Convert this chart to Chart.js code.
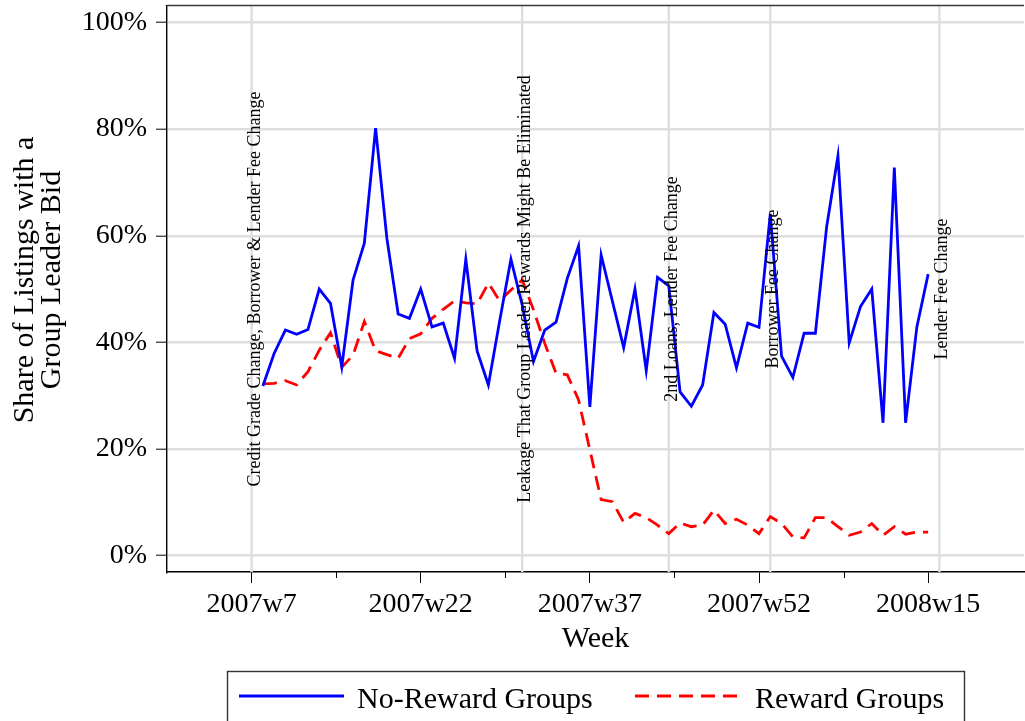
<!DOCTYPE html>
<html>
<head>
<meta charset="utf-8">
<title>Group leader bids by week</title>
<script src="https://cdn.jsdelivr.net/npm/chart.js@4/dist/chart.umd.min.js"></script>
<style>
    html, body { margin: 0; padding: 0; background: #fff; }
    #wrap { width: 1025px; height: 721px; }
</style>
</head>
<body>
<div id="wrap"><canvas id="chart" width="1025" height="721"></canvas></div>
<script>
// =============================
// Data
// =============================

const weeks = [
    '2007w8', '2007w9', '2007w10', '2007w11', '2007w12', '2007w13', '2007w14', '2007w15', '2007w16', '2007w17',
    '2007w18', '2007w19', '2007w20', '2007w21', '2007w22', '2007w23', '2007w24', '2007w25', '2007w26', '2007w27',
    '2007w28', '2007w29', '2007w30', '2007w31', '2007w32', '2007w33', '2007w34', '2007w35', '2007w36', '2007w37',
    '2007w38', '2007w39', '2007w40', '2007w41', '2007w42', '2007w43', '2007w44', '2007w45', '2007w46', '2007w47',
    '2007w48', '2007w49', '2007w50', '2007w51', '2007w52', '2008w1', '2008w2', '2008w3', '2008w4', '2008w5',
    '2008w6', '2008w7', '2008w8', '2008w9', '2008w10', '2008w11', '2008w12', '2008w13', '2008w14', '2008w15'
];

// share of listings with a group leader bid (%)
const noRewardShare = [
    31.8, 37.9, 42.3, 41.5, 42.4, 50.0, 47.3, 35.4, 51.7, 58.6,
    80.2, 59.5, 45.3, 44.5, 50.0, 42.9, 43.6, 37.0, 55.6, 38.4,
    32.0, 44.0, 55.6, 47.0, 36.4, 42.3, 43.8, 52.0, 58.1, 27.9,
    56.4, 47.7, 39.0, 50.0, 34.7, 52.2, 50.6, 30.7, 28.0, 32.0,
    45.6, 43.4, 35.2, 43.6, 42.8, 64.1, 37.4, 33.4, 41.7, 41.7,
    61.7, 75.0, 39.9, 46.7, 50.0, 24.9, 72.8, 24.9, 42.9, 52.8
];

const rewardShare = [
    32.2, 32.3, 32.8, 32.0, 34.5, 38.5, 41.8, 35.3, 37.6, 43.9,
    38.4, 37.7, 37.0, 40.7, 41.6, 44.5, 46.2, 47.8, 47.4, 47.2,
    51.1, 47.8, 49.8, 51.7, 46.1, 39.8, 34.2, 33.9, 29.2, 19.8,
    10.5, 10.1, 6.2, 7.9, 7.1, 5.7, 4.1, 6.1, 5.4, 5.7,
    8.5, 6.0, 6.8, 5.7, 4.1, 7.3, 6.0, 3.5, 3.3, 7.1,
    7.1, 5.4, 3.8, 4.4, 6.0, 3.8, 5.4, 4.0, 4.4, 4.4
];

const xTickLabels = ['2007w7', '2007w22', '2007w37', '2007w52', '2008w15'];
const yTickValues = [0, 20, 40, 60, 80, 100];

const eventWeeks = ['2007w7', '2007w31', '2007w44', '2008w1', '2008w16'];
const eventLabels = [
    'Credit Grade Change, Borrower & Lender Fee Change',
    'Leakage That Group Leader Rewards Might Be Eliminated',
    '2nd Loans, Lender Fee Change',
    'Borrower Fee Change',
    'Lender Fee Change'
];

// Stata-style weekly index: 52 weeks per year, 2007w1 = 1
function weekNum(label) {
    const parts = label.split('w');
    return (Number(parts[0]) - 2007) * 52 + Number(parts[1]);
}

const SERIF = '"Liberation Serif", "Times New Roman", serif';
const GRID = '#dedede';

// =============================
// Extra drawing: event lines, frame, titles, legend
// =============================

const overlay = {
    id: 'overlay',
    beforeDatasetsDraw(chart) {
        const { ctx, chartArea, scales } = chart;
        ctx.save();
        ctx.strokeStyle = GRID;
        ctx.lineWidth = 2.4;
        eventWeeks.forEach(w => {
            const x = scales.x.getPixelForValue(weekNum(w));
            ctx.beginPath();
            ctx.moveTo(x, chartArea.top);
            ctx.lineTo(x, chartArea.bottom);
            ctx.stroke();
        });
        ctx.restore();
    },
    afterDatasetsDraw(chart) {
        const { ctx, scales } = chart;
        const yMid = scales.y.getPixelForValue(50);
        ctx.save();
        ctx.fillStyle = '#000';
        ctx.font = '18px ' + SERIF;
        ctx.textAlign = 'center';
        ctx.textBaseline = 'alphabetic';
        eventWeeks.forEach((w, i) => {
            const x = scales.x.getPixelForValue(weekNum(w));
            ctx.save();
            ctx.translate(x, yMid);
            ctx.rotate(-Math.PI / 2);
            ctx.fillText(eventLabels[i], 0, 8);
            ctx.restore();
        });
        ctx.restore();
    },
    afterDraw(chart) {
        const { ctx, chartArea, scales } = chart;
        ctx.save();

        // top frame
        ctx.strokeStyle = '#3a3a3a';
        ctx.lineWidth = 1.4;
        ctx.beginPath();
        ctx.moveTo(chartArea.left, chartArea.top);
        ctx.lineTo(chartArea.right, chartArea.top);
        ctx.stroke();

        // minor ticks halfway between labelled ticks
        ctx.strokeStyle = '#000';
        ctx.lineWidth = 1;
        for (let i = 0; i < xTickLabels.length - 1; i++) {
            const mid = (weekNum(xTickLabels[i]) + weekNum(xTickLabels[i + 1])) / 2;
            const x = Math.round(scales.x.getPixelForValue(mid)) + 0.5;
            ctx.beginPath();
            ctx.moveTo(x, chartArea.bottom);
            ctx.lineTo(x, chartArea.bottom + 6);
            ctx.stroke();
        }

        // axis titles
        ctx.fillStyle = '#000';
        ctx.font = '30px ' + SERIF;
        ctx.textAlign = 'center';
        ctx.textBaseline = 'alphabetic';
        ctx.fillText('Week', (chartArea.left + chartArea.right) / 2, 647);

        ctx.save();
        ctx.translate(0, 280);
        ctx.rotate(-Math.PI / 2);
        ctx.fillText('Share of Listings with a', 0, 33);
        ctx.fillText('Group Leader Bid', 0, 60);
        ctx.restore();

        // legend
        ctx.strokeStyle = '#333';
        ctx.lineWidth = 1.4;
        ctx.strokeRect(227.5, 671.5, 737, 80);

        const items = [
            { x: 239, textX: 357 },
            { x: 635, textX: 755 }
        ];
        ctx.textAlign = 'left';
        chart.data.datasets.forEach((ds, i) => {
            const it = items[i];
            ctx.strokeStyle = ds.borderColor;
            ctx.lineWidth = ds.borderWidth;
            ctx.setLineDash(ds.borderDash || []);
            ctx.beginPath();
            ctx.moveTo(it.x, 696);
            ctx.lineTo(it.x + 105, 696);
            ctx.stroke();
            ctx.setLineDash([]);
            ctx.fillStyle = '#000';
            ctx.fillText(ds.label, it.textX, 708);
        });

        ctx.restore();
    }
};

// no extra room for the end labels, the frame is fixed
function noScalePadding(scale) {
    scale.paddingTop = 0;
    scale.paddingBottom = 0;
    scale.paddingLeft = 0;
    scale.paddingRight = 0;
}

// =============================
// Chart
// =============================

const ctx = document.getElementById('chart').getContext('2d');
new Chart(ctx, {
    type: 'line',
    data: {
        datasets: [
            {
                label: 'No-Reward Groups',
                data: weeks.map((w, i) => ({ x: weekNum(w), y: noRewardShare[i] })),
                borderColor: '#0000ff',
                borderWidth: 2.8,
                pointRadius: 0,
                tension: 0,
                fill: false
            },
            {
                label: 'Reward Groups',
                data: weeks.map((w, i) => ({ x: weekNum(w), y: rewardShare[i] })),
                borderColor: '#ff0000',
                borderWidth: 2.8,
                borderDash: [14, 8],
                pointRadius: 0,
                tension: 0,
                fill: false
            }
        ]
    },
    options: {
        responsive: false,
        animation: false,
        layout: { padding: { top: 5.5, right: 1, left: 0, bottom: 0 } },
        plugins: {
            legend: { display: false },
            tooltip: { enabled: false }
        },
        scales: {
            x: {
                type: 'linear',
                min: -0.5,
                max: 75.5,
                afterFit: scale => { scale.height = 149; noScalePadding(scale); },
                afterBuildTicks: scale => {
                    scale.ticks = xTickLabels.map(l => ({ value: weekNum(l), label: l }));
                },
                ticks: {
                    autoSkip: false,
                    maxRotation: 0,
                    padding: 5,
                    color: '#000',
                    font: { family: SERIF, size: 28 },
                    callback: function (value) {
                        const idx = xTickLabels.findIndex(l => weekNum(l) === value);
                        return idx >= 0 ? xTickLabels[idx] : '';
                    }
                },
                grid: {
                    drawOnChartArea: false,
                    drawTicks: true,
                    tickLength: 11,
                    tickColor: '#000',
                    tickWidth: 1
                },
                border: { display: true, color: '#000', width: 1.4 }
            },
            y: {
                type: 'linear',
                min: -3.1,
                max: 103.2,
                afterFit: scale => { scale.width = 167; noScalePadding(scale); },
                afterBuildTicks: scale => {
                    scale.ticks = yTickValues.map(v => ({ value: v }));
                },
                ticks: {
                    padding: 9,
                    color: '#000',
                    font: { family: SERIF, size: 28 },
                    callback: value => value + '%'
                },
                grid: {
                    color: GRID,
                    lineWidth: 2.4,
                    tickLength: 11,
                    tickColor: '#000',
                    tickWidth: 1
                },
                border: { display: true, color: '#000', width: 1.4 }
            }
        }
    },
    plugins: [overlay]
});
</script>
</body>
</html>
